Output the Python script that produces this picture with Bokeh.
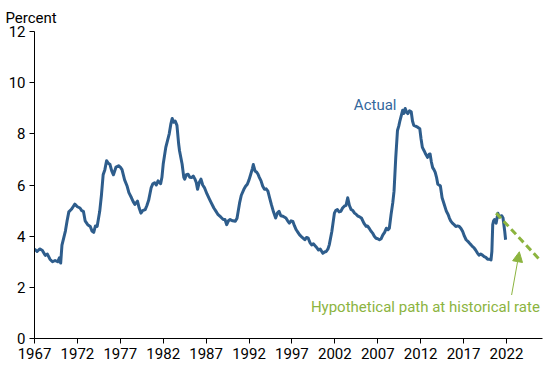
from bokeh.plotting import figure
from bokeh.models import (Range1d, FixedTicker, Label, Arrow, NormalHead)
from bokeh.embed import file_html
from bokeh.resources import INLINE

# ---- data ----
actual_year = [
    1967.0, 1967.3, 1967.6, 1967.9, 1968.25, 1968.5, 1968.8, 1969.1, 1969.4, 1969.7, 1969.9, 1970.05,
    1970.2, 1970.6, 1970.8, 1971.0, 1971.3, 1971.5, 1971.7, 1972.0, 1972.3, 1972.5, 1972.7, 1972.9,
    1973.2, 1973.5, 1973.7, 1973.9, 1974.1, 1974.3, 1974.6, 1974.8, 1975.0, 1975.2, 1975.4, 1975.6,
    1975.8, 1976.0, 1976.2, 1976.5, 1976.8, 1977.0, 1977.2, 1977.5, 1977.8, 1978.0, 1978.3, 1978.5,
    1978.7, 1979.0, 1979.2, 1979.4, 1979.6, 1979.9, 1980.1, 1980.3, 1980.6, 1980.8, 1981.0, 1981.2,
    1981.4, 1981.7, 1981.85, 1982.0, 1982.3, 1982.7, 1982.9, 1983.05, 1983.2, 1983.4, 1983.6, 1983.8,
    1983.9, 1984.2, 1984.4, 1984.5, 1984.7, 1984.9, 1985.1, 1985.3, 1985.5, 1985.7, 1985.85, 1986.0,
    1986.2, 1986.4, 1986.6, 1986.8, 1987.1, 1987.4, 1987.6, 1987.9, 1988.1, 1988.4, 1988.7, 1989.0,
    1989.2, 1989.4, 1989.6, 1989.8, 1990.1, 1990.4, 1990.6, 1990.9, 1991.1, 1991.4, 1991.6, 1991.8,
    1992.0, 1992.2, 1992.4, 1992.5, 1992.7, 1992.9, 1993.05, 1993.2, 1993.4, 1993.6, 1993.8, 1994.0,
    1994.2, 1994.4, 1994.6, 1994.85, 1995.1, 1995.3, 1995.5, 1995.7, 1995.95, 1996.1, 1996.3, 1996.5,
    1996.7, 1996.9, 1997.1, 1997.3, 1997.5, 1997.7, 1997.9, 1998.2, 1998.5, 1998.7, 1998.9, 1999.1,
    1999.3, 1999.5, 1999.8, 2000.1, 2000.3, 2000.6, 2000.8, 2001.0, 2001.2, 2001.35, 2001.65, 2001.95,
    2002.1, 2002.3, 2002.5, 2002.7, 2002.9, 2003.1, 2003.3, 2003.5, 2003.7, 2003.9, 2004.1, 2004.3,
    2004.5, 2004.7, 2004.9, 2005.1, 2005.4, 2005.65, 2005.8, 2006.0, 2006.2, 2006.4, 2006.6, 2006.8,
    2007.0, 2007.2, 2007.4, 2007.6, 2007.8, 2008.0, 2008.2, 2008.35, 2008.55, 2008.75, 2008.9, 2009.1,
    2009.3, 2009.45, 2009.6, 2009.9, 2010.05, 2010.2, 2010.35, 2010.5, 2010.7, 2010.9, 2011.05, 2011.2,
    2011.4, 2011.65, 2011.9, 2012.05, 2012.2, 2012.4, 2012.6, 2012.8, 2013.0, 2013.1, 2013.25, 2013.4,
    2013.55, 2013.7, 2013.85, 2014.0, 2014.15, 2014.3, 2014.5, 2014.75, 2015.0, 2015.2, 2015.35, 2015.5,
    2015.7, 2015.9, 2016.1, 2016.3, 2016.5, 2016.7, 2016.9, 2017.1, 2017.3, 2017.5, 2017.7, 2017.9,
    2018.05, 2018.2, 2018.4, 2018.6, 2018.8, 2019.0, 2019.2, 2019.4, 2019.6, 2019.8, 2020.0, 2020.2,
    2020.3, 2020.4, 2020.5, 2020.6, 2020.8, 2021.0, 2021.15, 2021.3, 2021.45, 2021.6, 2021.8, 2021.9,
]
actual_value = [
    3.5, 3.4, 3.5, 3.45, 3.25, 3.3, 3.1, 3.0, 3.05, 3.0, 3.15, 2.95,
    3.65, 4.2, 4.6, 4.95, 5.05, 5.15, 5.25, 5.15, 5.1, 5.0, 4.97, 4.6,
    4.45, 4.38, 4.2, 4.15, 4.4, 4.38, 4.97, 5.6, 6.4, 6.6, 6.95, 6.85,
    6.8, 6.55, 6.4, 6.7, 6.75, 6.7, 6.6, 6.2, 5.95, 5.7, 5.5, 5.35,
    5.24, 5.37, 5.1, 4.9, 5.0, 5.04, 5.2, 5.4, 5.9, 6.05, 6.09, 6.0,
    6.16, 6.05, 6.3, 6.82, 7.47, 8.0, 8.4, 8.6, 8.45, 8.5, 8.33, 7.6,
    7.34, 6.82, 6.3, 6.23, 6.4, 6.42, 6.3, 6.29, 6.35, 6.23, 6.1, 5.83,
    6.1, 6.23, 6.0, 5.9, 5.65, 5.44, 5.3, 5.1, 5.0, 4.84, 4.75, 4.65,
    4.65, 4.45, 4.6, 4.65, 4.6, 4.58, 4.7, 5.3, 5.6, 5.83, 5.95, 6.03,
    6.2, 6.42, 6.65, 6.8, 6.55, 6.5, 6.42, 6.3, 6.16, 5.95, 5.83, 5.85,
    5.76, 5.5, 5.24, 4.95, 4.71, 4.9, 4.97, 4.8, 4.78, 4.75, 4.71, 4.6,
    4.51, 4.6, 4.58, 4.4, 4.25, 4.15, 4.05, 3.95, 3.86, 3.95, 3.92, 3.75,
    3.66, 3.7, 3.59, 3.46, 3.5, 3.33, 3.38, 3.4, 3.5, 3.66, 4.18, 4.9,
    5.0, 5.04, 4.95, 4.97, 5.1, 5.17, 5.2, 5.5, 5.2, 5.04, 5.0, 4.9,
    4.85, 4.78, 4.75, 4.71, 4.5, 4.38, 4.4, 4.31, 4.2, 4.12, 4.0, 3.92,
    3.9, 3.86, 3.9, 4.05, 4.15, 4.31, 4.25, 4.31, 4.84, 5.3, 5.76, 7.08,
    8.13, 8.3, 8.53, 8.92, 8.8, 8.99, 8.85, 8.79, 8.9, 8.86, 8.5, 8.33,
    8.3, 8.26, 8.2, 7.8, 7.47, 7.34, 7.2, 7.08, 7.2, 7.21, 6.9, 6.68,
    6.6, 6.49, 6.3, 6.03, 6.0, 5.96, 5.5, 5.24, 4.97, 4.85, 4.71, 4.6,
    4.51, 4.45, 4.38, 4.4, 4.38, 4.3, 4.18, 4.0, 3.86, 3.8, 3.72, 3.65,
    3.59, 3.55, 3.46, 3.35, 3.26, 3.3, 3.26, 3.2, 3.17, 3.1, 3.1, 3.07,
    3.4, 4.45, 4.6, 4.65, 4.51, 4.9, 4.75, 4.78, 4.8, 4.71, 4.18, 3.86,
]
hypo_year = [2020.8, 2025.9]
hypo_value = [4.9, 3.07]

x_ticks = [1967, 1972, 1977, 1982, 1987, 1992, 1997, 2002, 2007, 2012, 2017, 2022]
y_ticks = [0, 2, 4, 6, 8, 10, 12]

BLUE = "#2E5D8C"
BLUE_TXT = "#34679C"
GREEN = "#8CB43F"
FONT = "Roboto"

p = figure(width=547, height=361, output_backend="svg", toolbar_location=None,
           x_range=Range1d(1967, 2026.2), y_range=Range1d(0, 12),
           min_border_left=34, min_border_right=5, min_border_top=31, min_border_bottom=20)
p.outline_line_color = None
p.xgrid.visible = False
p.ygrid.visible = False
p.background_fill_color = "white"

p.title.text = "Percent"
p.title.align = "left"
p.title.offset = -29
p.title.standoff = 10
p.title.text_font = FONT
p.title.text_font_size = "15px"
p.title.text_font_style = "normal"
p.title.text_color = "black"

for ax in (p.xaxis[0], p.yaxis[0]):
    ax.axis_line_color = "black"
    ax.axis_line_width = 1
    ax.major_tick_line_color = "black"
    ax.major_tick_in = 0
    ax.major_tick_out = 5
    ax.minor_tick_line_color = None
    ax.major_label_text_font = FONT
    ax.major_label_text_font_size = "15px"
    ax.major_label_text_color = "black"
    ax.major_label_standoff = 4

p.xaxis[0].ticker = FixedTicker(ticks=x_ticks)
p.yaxis[0].ticker = FixedTicker(ticks=y_ticks)

p.line(actual_year, actual_value, line_color=BLUE, line_width=3, line_join="round")
p.line(hypo_year, hypo_value, line_color=GREEN, line_width=3, line_dash="7 4")

p.add_layout(Label(x=2006.7, y=9.12, text="Actual", text_font=FONT, text_font_size="15px",
                   text_color=BLUE_TXT, text_align="center", text_baseline="middle"))
p.add_layout(Label(x=2012.55, y=1.22, text="Hypothetical path at historical rate", text_font=FONT,
                   text_font_size="15px", text_color=GREEN, text_align="center",
                   text_baseline="middle"))
p.add_layout(Arrow(x_start=2022.6, y_start=1.7, x_end=2023.5, y_end=3.39,
                   line_color=GREEN, line_width=1,
                   end=NormalHead(size=10, fill_color=GREEN, line_color=GREEN)))

open("out.html", "w").write(file_html(p, INLINE))
